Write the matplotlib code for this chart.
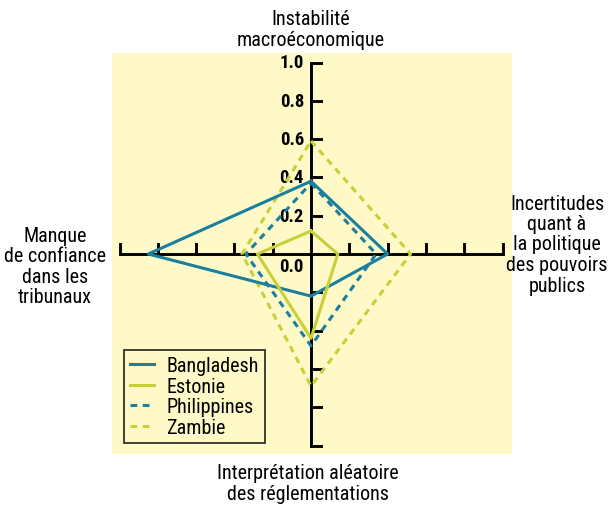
import matplotlib.pyplot as plt
from matplotlib import font_manager as fm
from matplotlib.patches import Rectangle

# pick a narrow sans if one is installed, the reference uses a condensed face
entries = fm.fontManager.ttflist
names = {f.name for f in entries}
family, stretch = "Roboto", "normal"
for n in ["Roboto Condensed", "Liberation Sans Narrow", "Open Sans Condensed",
          "Noto Sans Condensed", "DejaVu Sans Condensed"]:
    if n in names:
        family = n
        break
else:
    cond = [f.name for f in entries
            if f.stretch in ("condensed", "semi-condensed") and f.weight in (400, "normal", "regular")]
    for n in ["Roboto", "Noto Sans", "Open Sans", "DejaVu Sans", "Liberation Sans"]:
        if n in cond:
            family, stretch = n, "condensed"
            break

plt.rcParams['font.family'] = [family, 'DejaVu Sans']
plt.rcParams['font.stretch'] = stretch

# axes order: top, right, bottom, left
axis_labels = ["Instabilité\nmacroéconomique",
               "Incertitudes\nquant à\nla politique\ndes pouvoirs\npublics",
               "Interprétation aléatoire\ndes réglementations",
               "Manque\nde confiance\ndans les\ntribunaux"]
countries = ["Bangladesh", "Estonie", "Philippines", "Zambie"]
bangladesh = [0.38, 0.40, 0.22, 0.85]
estonie = [0.12, 0.14, 0.44, 0.28]
philippines = [0.37, 0.34, 0.48, 0.34]
zambie = [0.59, 0.52, 0.69, 0.36]
tick_values = [0.0, 0.2, 0.4, 0.6, 0.8, 1.0]

teal = "#1a7f9e"
green = "#c6d13a"
bg = "#fff9c8"
fs = 14.5

# pixel layout: origin at (311, 255), 191.5 px per unit
W, H = 608, 506
ox, oy, s = 311, 255, 191.5

fig = plt.figure(figsize=(W / 100, H / 100), dpi=100)
ax = fig.add_axes([0, 0, 1, 1])
ax.set_xlim(-ox / s, (W - ox) / s)
ax.set_ylim((oy - H) / s, oy / s)
ax.axis("off")

ax.add_patch(Rectangle(((112 - ox) / s, (oy - 455) / s), 400 / s, 401 / s,
                       facecolor=bg, edgecolor="none", zorder=0))

# axes cross
ax.plot([-1, 1], [0, 0], color="black", lw=2.1, zorder=2, solid_capstyle="butt")
ax.plot([0, 0], [-1, 1], color="black", lw=2.1, zorder=2, solid_capstyle="butt")
tl = 10 / s
for v in tick_values[1:]:
    for sg in (1, -1):
        ax.plot([sg * v, sg * v], [0, tl], color="black", lw=2.1, zorder=2)
        ax.plot([0, tl], [sg * v, sg * v], color="black", lw=2.1, zorder=2)
for v in tick_values[1:]:
    ax.text(-7 / s, v, f"{v:.1f}", ha="right", va="center", fontsize=13.5,
            fontweight="semibold", zorder=3)
ax.text(-7 / s, -12 / s, "0.0", ha="right", va="center", fontsize=13.5,
        fontweight="semibold", zorder=3)


def poly(vals):
    t, r, b, l = vals
    return [0, r, 0, -l, 0], [t, 0, -b, 0, t]


series = [(bangladesh, teal, "-"), (estonie, green, "-"),
          (philippines, teal, (0, (2.2, 1.8))), (zambie, green, (0, (2.2, 1.8)))]
handles = []
for name, (vals, col, ls) in zip(countries, series):
    x, y = poly(vals)
    z = 4 if ls == "-" else 3
    h, = ax.plot(x, y, color=col, lw=2.2, ls=ls, label=name, zorder=z)
    handles.append(h)

leg = ax.legend(handles=handles, loc="lower left", bbox_to_anchor=(124 / W, 1 - 444 / H),
                borderaxespad=0, fancybox=False, frameon=True, fontsize=fs,
                handlelength=1.2, handletextpad=0.6, labelspacing=0.08,
                borderpad=0.3)
leg.get_frame().set_edgecolor("black")
leg.get_frame().set_linewidth(1.3)
leg.get_frame().set_facecolor(bg)

ax.text(0, (oy - 30) / s, axis_labels[0], ha="center", va="center", fontsize=fs,
        linespacing=1.1)
ax.text((557 - ox) / s, (oy - 245) / s, axis_labels[1], ha="center", va="center",
        fontsize=fs, linespacing=1.1)
ax.text((308 - ox) / s, (oy - 484) / s, axis_labels[2], ha="center", va="center",
        fontsize=fs, linespacing=1.1)
ax.text((55 - ox) / s, (oy - 267) / s, axis_labels[3], ha="center", va="center",
        fontsize=fs, linespacing=1.1)

fig.savefig("out.png", dpi=100)
